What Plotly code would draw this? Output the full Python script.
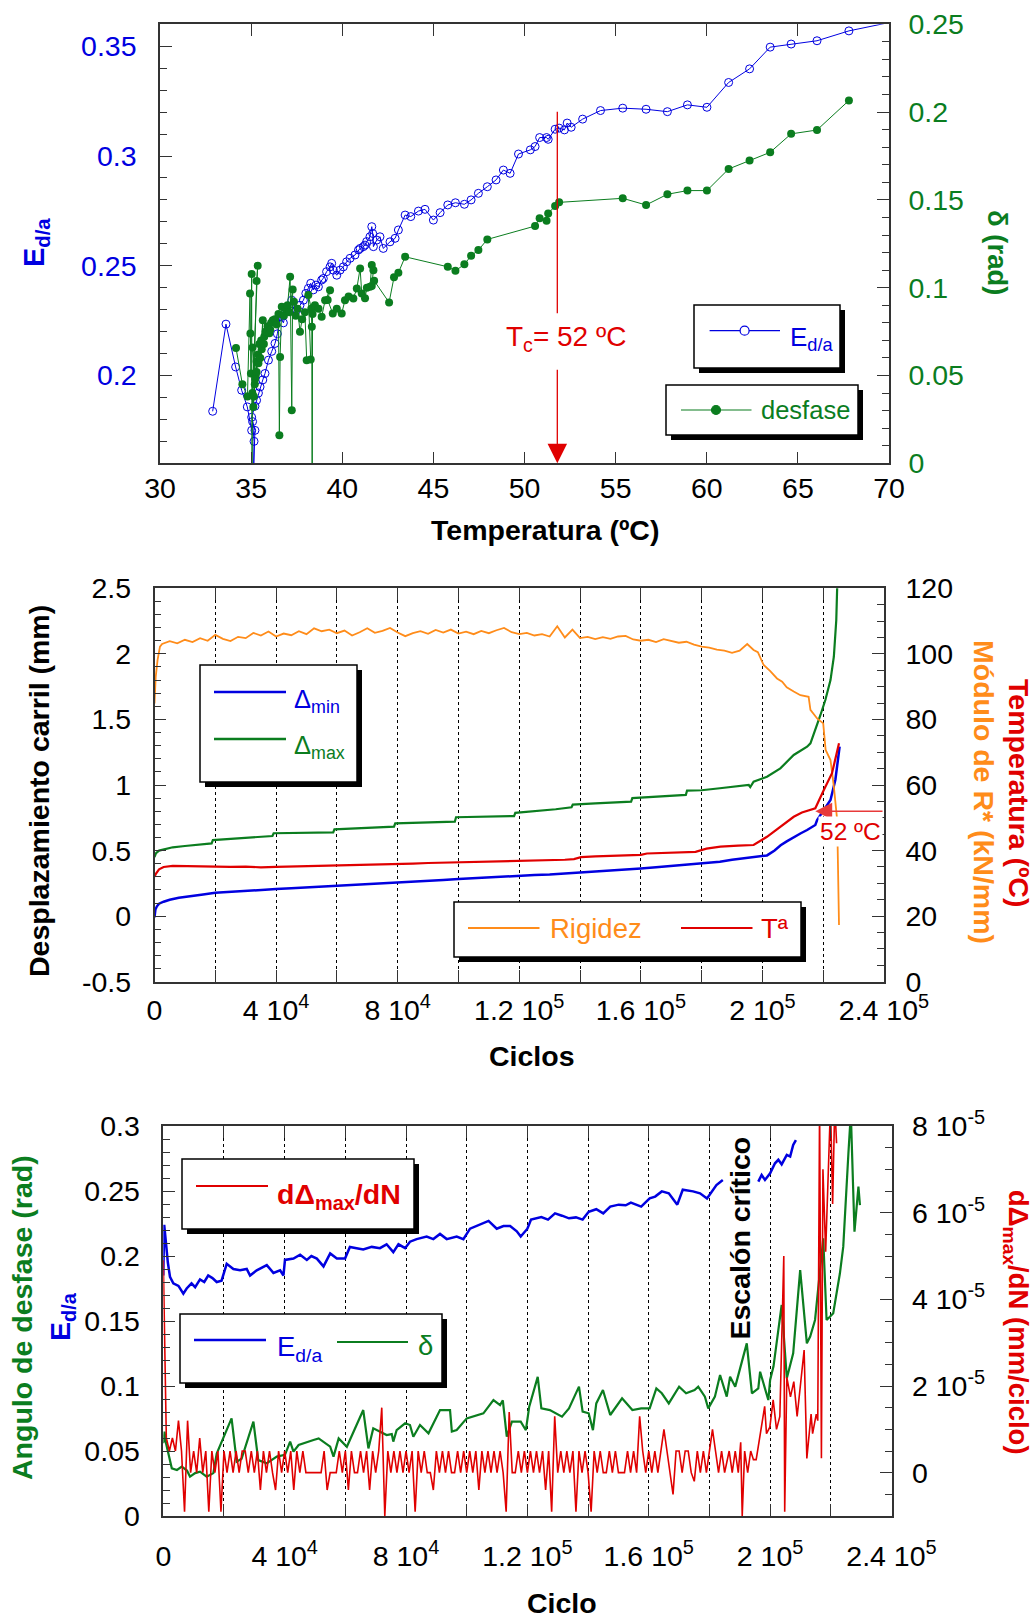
import plotly.graph_objects as go

W, H = 1036, 1619
FONT = "Liberation Sans, Arial, Helvetica, sans-serif"
BLUE = "#0000e0"
GREEN = "#0b7d1f"
RED = "#e00000"
ORANGE = "#ff8c1a"
AXIS = "#333333"

# ---------------- Panel 1: E_d/a and desfase vs temperature ----------------
temp_e = [32.89, 33.62, 34.15, 34.48, 34.79, 35.03, 35.08, 35.16, 35.14, 35.21,
          35.03, 35.21, 35.3, 35.4, 35.49, 35.64, 35.76, 35.95, 36.13, 36.31,
          36.44, 36.59, 36.77, 36.95, 37.23, 37.32, 37.5, 37.68, 37.87, 38.0,
          38.14, 38.27, 38.41, 38.56, 38.69, 38.87, 38.96, 39.14, 39.33, 39.42,
          39.51, 39.7, 39.88, 40.06, 40.24, 40.43, 40.7, 40.89, 40.98, 41.16,
          41.25, 41.34, 41.52, 41.62, 41.67, 41.71, 41.89, 42.07, 42.25, 42.62,
          42.9, 43.08, 43.45, 43.76, 44.18, 44.54, 45.0, 45.37, 45.79, 46.21,
          46.7, 47.07, 47.47, 47.96, 48.44, 48.84, 49.21, 49.67, 50.32, 50.58,
          50.83, 51.21, 51.3, 51.68, 51.9, 52.19, 52.34, 52.56, 53.19, 54.17,
          55.39, 56.67, 57.84, 58.94, 60.01, 61.2, 62.35, 63.48, 64.63, 66.05,
          67.8, 71.0]
ed_a = [0.1837, 0.2234, 0.2039, 0.1933, 0.1857, 0.175, 0.179, 0.170, 0.158, 0.175,
        0.181, 0.186, 0.1887, 0.192, 0.1948, 0.198, 0.2009, 0.207, 0.211, 0.2146,
        0.219, 0.2267, 0.224, 0.2298, 0.2343, 0.2306, 0.2298, 0.232, 0.2343, 0.2374,
        0.2397, 0.242, 0.239, 0.2412, 0.2404, 0.2435, 0.2442, 0.2473, 0.2495, 0.2511,
        0.248, 0.2457, 0.248, 0.2495, 0.2518, 0.2534, 0.2549, 0.2572, 0.2579, 0.2587,
        0.2594, 0.261, 0.2632, 0.2678, 0.2647, 0.2587, 0.2617, 0.2632, 0.2579, 0.2609,
        0.2625, 0.2663, 0.2731, 0.2724, 0.2749, 0.2757, 0.2708, 0.2742, 0.2777, 0.2787,
        0.278, 0.28, 0.283, 0.286, 0.2891, 0.2936, 0.2921, 0.3009, 0.3028, 0.3043,
        0.3084, 0.3084, 0.3076, 0.3122, 0.3127, 0.3119, 0.315, 0.3131, 0.3168, 0.3207,
        0.3218, 0.3213, 0.3202, 0.3233, 0.3222, 0.3335, 0.3397, 0.3496, 0.351, 0.3525,
        0.357, 0.3625]

temp_d = [34.17, 34.52, 34.8, 34.94, 34.96, 34.99, 35.03, 35.05, 35.07, 35.36,
          35.3, 35.12, 35.2, 35.08, 35.25, 35.15, 35.3, 35.22, 35.38, 35.3,
          35.45, 35.4, 35.55, 35.5, 35.64, 35.58, 35.72, 35.8, 35.7, 35.9,
          36.0, 36.1, 36.19, 36.05, 36.3, 36.4, 36.5, 36.55, 36.59, 36.68,
          36.8, 36.9, 37.0, 37.14, 37.23, 37.28, 37.1, 37.35, 37.45, 37.55,
          37.68, 37.8, 37.95, 38.05, 38.27, 38.14, 38.3, 38.33, 38.35, 38.37,
          38.5, 38.7, 38.87, 39.06, 39.33, 39.2, 39.48, 39.7, 39.97, 40.15,
          40.35, 40.61, 40.8, 40.98, 41.07, 41.25, 41.35, 41.52, 41.62, 41.71,
          41.62, 41.75, 42.57, 42.84, 43.08, 43.45, 45.79, 46.21, 46.7, 47.07,
          47.47, 47.96, 50.58, 50.83, 51.21, 51.3, 51.68, 51.9, 55.39, 56.67,
          57.84, 58.94, 60.01, 61.2, 62.35, 63.48, 64.63, 66.05, 67.8]
desfase = [0.0657, 0.045, 0.038, 0.0967, 0.0739, 0.0511, 0.1078, -0.03, 0.04, 0.1125,
           0.1038, 0.0321, 0.045, 0.066, 0.05, 0.038, 0.058, 0.048, 0.062, 0.052,
           0.068, 0.057, 0.07, 0.06, 0.0815, 0.065, 0.072, 0.075, 0.068, 0.078,
           0.074, 0.08, 0.0815, 0.076, 0.082, 0.079, 0.085, 0.016, 0.0606, 0.0891,
           0.084, 0.088, 0.09, 0.1062, 0.0302, 0.099, 0.086, 0.092, 0.084, 0.088,
           0.0749, 0.082, 0.086, 0.0587, 0.0591, 0.0958, 0.088, 0.0777, -0.05, 0.085,
           0.09, 0.088, 0.0834, 0.0929, 0.0986, 0.093, 0.0853, 0.088, 0.0853, 0.0929,
           0.095, 0.0939, 0.0996, 0.111, 0.0967, 0.094, 0.1, 0.1005, 0.1129, 0.11,
           0.101, 0.104, 0.0916, 0.1059, 0.1085, 0.1176, 0.1119, 0.1096, 0.1133, 0.1182,
           0.1214, 0.1275, 0.1351, 0.1395, 0.1381, 0.1423, 0.1465, 0.1486, 0.1509, 0.1471,
           0.1532, 0.1553, 0.1553, 0.1676, 0.1724, 0.1771, 0.1876, 0.1898, 0.2066]

critical_temp = 51.8  # T_c marker position

# ---------------- Panel 2: rail displacement, stiffness and temperature ----------------
dmin_n = [0, 0.3, 0.8, 1.5, 3, 5, 8, 12, 16, 20,
          25, 30, 35, 40, 45, 50, 55, 60, 65, 70,
          75, 80, 85, 90, 95, 100, 105, 110, 115, 120,
          125, 130, 135, 140, 145, 150, 155, 160, 165, 170,
          175, 180, 186, 190, 194, 198, 201.5, 204, 206, 208,
          210.3, 212.5, 214.7, 217.4, 218, 220.2, 222.4, 224, 224.8, 225.4]
dmin = [-0.01, 0.05, 0.075, 0.095, 0.11, 0.125, 0.14, 0.155, 0.165, 0.178,
        0.186, 0.195, 0.2, 0.206, 0.212, 0.218, 0.223, 0.23, 0.236, 0.242,
        0.248, 0.255, 0.26, 0.268, 0.275, 0.283, 0.29, 0.297, 0.302, 0.306,
        0.313, 0.318, 0.325, 0.331, 0.338, 0.345, 0.352, 0.364, 0.372, 0.383,
        0.395, 0.405, 0.415, 0.43, 0.443, 0.455, 0.463, 0.5, 0.54, 0.57,
        0.603, 0.63, 0.657, 0.695, 0.733, 0.81, 0.886, 1.04, 1.19, 1.292]

dmax_n = [0, 0.5, 1.5, 3, 6, 10, 14, 18.8, 19.2, 25,
          30, 35, 38.8, 39.2, 45, 52, 58.8, 59.2, 65, 72,
          78.8, 79.2, 85, 92, 98.8, 99.2, 105, 112, 118.3, 118.7,
          125, 132, 137.2, 137.6, 145, 152, 156.8, 157.2, 165, 170,
          174.8, 175.2, 180, 186, 190.5, 195.5, 196, 196.5, 197.1, 201.5,
          205.9, 210.3, 214.7, 215.8, 217.4, 219.1, 220.7, 222.4, 223.5, 224.3,
          224.6, 225.0]
dmax = [0.45, 0.48, 0.5, 0.51, 0.525, 0.535, 0.545, 0.555, 0.58, 0.59,
        0.6, 0.606, 0.611, 0.632, 0.634, 0.636, 0.638, 0.662, 0.668, 0.675,
        0.682, 0.708, 0.712, 0.716, 0.72, 0.754, 0.757, 0.76, 0.763, 0.788,
        0.8, 0.815, 0.83, 0.85, 0.86, 0.868, 0.873, 0.9, 0.91, 0.918,
        0.924, 0.957, 0.96, 0.975, 0.987, 1.0, 0.985, 1.008, 1.025, 1.063,
        1.127, 1.229, 1.292, 1.318, 1.419, 1.534, 1.648, 1.8, 1.978, 2.258,
        2.51, 2.9]

temp_n = [0, 0.5, 1.5, 3, 6, 10, 15, 20, 25, 30,
          35, 40, 45, 50, 55, 60, 65, 70, 75, 80,
          85, 90, 95, 100, 105, 110, 115, 120, 125, 130,
          135, 138, 140.3, 145, 150, 155, 160, 162, 165, 170,
          175, 178, 181.6, 186.2, 192, 197.1, 201.5, 205.9, 210.3, 213,
          215.8, 217.4, 220.2, 222.9, 225.2]
temp_c = [32.0, 33.0, 34.3, 35.0, 35.3, 35.2, 35.3, 35.1, 35.0, 35.1,
          34.9, 35.0, 35.1, 35.2, 35.2, 35.4, 35.5, 35.6, 35.8, 35.9,
          36.0, 36.2, 36.3, 36.4, 36.4, 36.5, 36.6, 36.8, 36.9, 37.0,
          37.2, 37.4, 38.0, 38.2, 38.3, 38.5, 38.7, 39.1, 39.2, 39.3,
          39.4, 39.6, 40.6, 41.2, 41.5, 41.7, 44.2, 47.3, 50.3, 51.6,
          52.4, 52.9, 58.5, 63.6, 72.7]

# stiffness: start-up, regular record every 2500 cycles, then the collapse
rig_start_n = [0, 0.4, 1.0, 1.8]
rig_start = [84.9, 93.0, 98.1, 102.2]
rig_step = 2.5
rig_mid = [103.0, 103.9, 103.2, 104.3, 103.6, 104.8, 104.0, 105.8, 104.6, 103.9,
           105.2, 104.8, 106.4, 105.6, 106.8, 105.3, 106.2, 105.7, 106.9, 106.0,
           107.8, 106.9, 107.4, 106.3, 107.1, 105.6, 106.6, 107.8, 106.4, 107.0,
           107.9, 106.5, 105.4, 106.3, 106.9, 106.1, 107.3, 106.5, 107.4, 106.2,
           106.8, 106.0, 107.0, 106.3, 107.2, 107.9, 106.6, 106.0, 106.4, 105.6,
           106.0, 105.3, 108.4, 105.0, 107.4, 104.8, 105.2, 104.5, 105.1, 104.6,
           105.3, 105.5, 104.4, 104.0, 104.3, 103.6, 104.5, 104.0, 103.4, 103.7,
           102.8, 102.2, 101.9, 101.3, 101.0, 100.3, 101.0, 103.0]
rig_end_n = [197.1, 198.5, 200.4, 202.5, 204.8, 206.5, 208, 210.3, 212.5, 215.2,
             215.8, 218, 220, 220.8, 222.4, 223.5, 224.6, 225.2]
rig_end = [101.2, 100.5, 96.6, 94.8, 92.5, 91.5, 89.8, 88.5, 87.4, 86.9,
           82.9, 80.3, 78.8, 70.7, 67.6, 59.5, 49.3, 17.3]

# ---------------- Panel 3: E_d/a, phase angle and d(Delta_max)/dN ----------------
e3_n = [0, 0.3, 0.8, 1.5, 2.2, 3.3, 5, 6.6, 7.7, 9.3,
        10.5, 12.1, 13.5, 14.8, 16.2, 17.6, 19.2, 20.9, 23.1, 25.3,
        27.5, 28.6, 30.8, 32.5, 34.1, 36.3, 38.5, 39.6, 40.1, 42.9,
        45.1, 47.3, 48.8, 50.6, 52.8, 55, 57.2, 59.9, 61.5, 63.7,
        65.9, 68.7, 71.4, 73.6, 75.8, 77.5, 79.7, 81.3, 83.5, 86.8,
        89, 91.2, 93.4, 96.7, 98.9, 101.1, 104.4, 107.2, 109.9, 112.1,
        114.3, 116.5, 117.8, 120, 121.2, 124.6, 126.8, 129.1, 131.4, 133.7,
        136, 138.2, 140.2, 142.7, 145, 147.3, 150.1, 152.4, 154.1, 157.5,
        160.3, 162.1, 164.3, 166.6, 169.4, 171.2, 174.6, 176.9, 179.2, 180.9,
        182.3, 184.4]
e3 = [0.185, 0.224, 0.212, 0.195, 0.184, 0.179, 0.177, 0.171, 0.175, 0.179,
      0.176, 0.182, 0.18, 0.185, 0.183, 0.18, 0.181, 0.194, 0.19, 0.189,
      0.19, 0.185, 0.189, 0.191, 0.193, 0.187, 0.189, 0.185, 0.197, 0.198,
      0.201, 0.197, 0.2, 0.198, 0.192, 0.202, 0.198, 0.198, 0.207, 0.206,
      0.205, 0.207, 0.206, 0.209, 0.203, 0.209, 0.206, 0.211, 0.213, 0.215,
      0.213, 0.217, 0.213, 0.215, 0.213, 0.221, 0.224, 0.227, 0.221, 0.223,
      0.223, 0.219, 0.215, 0.221, 0.228, 0.23, 0.228, 0.2328, 0.231, 0.229,
      0.2297, 0.228, 0.234, 0.236, 0.2328, 0.238, 0.2395, 0.239, 0.241, 0.238,
      0.2443, 0.2457, 0.2497, 0.2482, 0.2395, 0.251, 0.2497, 0.2482, 0.2443, 0.2497,
      0.2546, 0.2585]
e3_late_n = [196.1, 197.2, 198.3, 200, 201.6, 202.7, 203.8, 205.5, 206.6, 207.6, 208.5]
e3_late = [0.2572, 0.2623, 0.2585, 0.2636, 0.2713, 0.274, 0.2705, 0.2777, 0.2765, 0.2854, 0.2892]

delta_n = [0, 0.4, 0.9, 1.6, 2.8, 4.5, 6.1, 7.8, 8.8, 10.5,
           12.1, 14.3, 16.5, 17.6, 22.5, 24.2, 25.8, 29.7, 31.3, 34.1,
           37.4, 40.1, 41.8, 42.9, 44.6, 49.5, 51.2, 55, 56.1, 57.8,
           60.5, 65.9, 67.6, 69.2, 73.6, 75.3, 75.8, 76.9, 79.7, 81.3,
           82.4, 84.6, 87.4, 91.2, 94.5, 95.1, 96.7, 100, 105.5, 108.8,
           111, 111.9, 113.2, 114.9, 117.8, 119.5, 120.6, 123.4, 124.6, 127.4,
           131.4, 133.7, 137, 138.2, 140.2, 141.6, 142.7, 144.9, 147.3, 151.2,
           154.6, 157.5, 160.3, 162.5, 164.3, 166.6, 170, 172.3, 175.1, 176.3,
           178.5, 179.6, 181.8, 183.5, 185.7, 186.8, 188.5, 192.3, 194, 196.1,
           196.7, 199.4, 200, 201.1, 203.8, 205.5, 207.6, 209.9, 212.1, 213.2,
           214.8, 217.5, 218.6, 219.7, 220.8, 223, 224.1, 225.8, 226.6, 227.8,
           229.1, 229.6]
delta = [0.056, 0.0649, 0.056, 0.048, 0.0367, 0.0354, 0.038, 0.035, 0.0303, 0.033,
         0.0341, 0.0303, 0.033, 0.048, 0.0751, 0.0418, 0.044, 0.0726, 0.043, 0.0405,
         0.0457, 0.047, 0.0572, 0.0495, 0.0546, 0.0585, 0.0597, 0.0533, 0.0457, 0.0597,
         0.0533, 0.0815, 0.052, 0.0674, 0.0623, 0.063, 0.0572, 0.0661, 0.0713, 0.07,
         0.061, 0.07, 0.0636, 0.0815, 0.0815, 0.0649, 0.0661, 0.0751, 0.079, 0.0892,
         0.0853, 0.089, 0.061, 0.0726, 0.0726, 0.066, 0.0841, 0.107, 0.0828, 0.0815,
         0.0764, 0.0828, 0.0995, 0.0803, 0.079, 0.066, 0.0866, 0.0969, 0.0777, 0.0905,
         0.0815, 0.0828, 0.0828, 0.0982, 0.0944, 0.0866, 0.0995, 0.0944, 0.0969, 0.0995,
         0.0918, 0.0828, 0.0918, 0.1085, 0.0918, 0.1072, 0.0995, 0.1328, 0.0944, 0.0982,
         0.111, 0.0892, 0.1046, 0.1149, 0.1623, 0.1059, 0.1251, 0.1892, 0.1328, 0.138,
         0.1508, 0.2136, 0.1508, 0.1533, 0.156, 0.1867, 0.2072, 0.279, 0.31, 0.2187,
         0.2533, 0.2392]

# d(Delta_max)/dN in 1e-5 mm/cycle, recorded every 1000 cycles up to 185000
rate_step = 1.0
rate_early = [4.9, 0.8, 0.5, 0.8, 0.5, 1.2, 0.5, -0.9, 1.2, 0,
              0.5, 0, 0.8, 0, 0.5, -0.9, 0.5, 0, 0.5, -0.9,
              0.5, 0, 0.5, 0, 0.5, 0, 0.5, 0.5, 0, 0.5,
              0, 0.5, -0.4, 0.5, 0, 0.5, 0, -0.4, 0.5, 0,
              0.5, 0, 0.5, -0.4, 0.5, 0, 0.5, 0, 0, 0,
              0, 0, 0, 0.5, -0.4, 0, 0, 0, 0.5, 0,
              0.5, -0.4, 0.5, 0, 0, 0.5, 0, 0.5, -0.4, 0.5,
              0, 0.5, 1.5, -1.0, 0.5, 0, 0.5, 0, 0.5, 0,
              0.5, 0, 0.5, -0.9, 0.5, 0, 0.5, 0, 0, -0.4,
              0.5, 0, 0.5, 0, 0.5, 0, 0, 0.5, 0, 0.5,
              0, 0.5, 0, 0.5, -0.4, 0.5, 0, 0.5, 0, 0.5,
              0, 0.5, 0, -0.9, 1.4, 0, 0, 0.5, 0, 0.5,
              0, 0.5, 0, 0.5, 0, 0.5, -0.4, 0.5, -0.9, 1.3,
              0, 0.5, 0, 0.5, 0, 0.5, -0.9, 0.5, 0, 0.5,
              0, -0.9, 0.5, 0, 0.5, 0, 0, 0.5, 0, 0.5,
              0, 0, 0, 0.5, 0, 0.5, 0, 1.3, 0.5, 0,
              0.5, 0, 0.5, 0, 0.5, 1.0, 0.5, 0, -0.5, 0.5,
              0.5, 0, 0.5, 0.5, 0, -0.2, 0.5, 0, 0.5, 0,
              0.5, 1.0, 0.5, 0, 0.5, 0]
rate_late_n = [186.5, 187.5, 188.5, 189.5, 190.3, 190.8, 191.6, 192.6, 193.6, 194.5,
               195.4, 196.5, 197.1, 198.2, 198.8, 199.9, 201.0, 202.1, 203.2, 204.5,
               204.8, 205.5, 206.7, 207.8, 208.9, 210.0, 211.2, 212.1, 213.5, 214.0,
               215.2, 215.7, 216.3, 216.9, 217.4, 218.3, 219.1, 219.9, 220.6, 221.3,
               221.9]
rate_late = [0.5, 0, 0.5, 0, 0.7, -1.0, 0.5, 0, 0.5, 0.3,
             0.3, 0.75, 1.05, 1.53, 0.9, 1.05, 1.68, 1.0, 1.3, 5.0,
             -0.9, 2.2, 1.75, 2.1, 1.3, 2.0, 2.83, 0.33, 1.35, 0.9,
             1.35, 1.2, 8.5, 0.33, 7.0, 5.1, 6.7, 8.5, 6.2, 8.5,
             7.6]

cycle_ticks = [0, 20000, 40000, 60000, 80000, 100000, 120000, 140000,
               160000, 180000, 200000, 220000, 240000]
cycle_text = ["0", "", "4 10<sup>4</sup>", "", "8 10<sup>4</sup>", "",
              "1.2 10<sup>5</sup>", "", "1.6 10<sup>5</sup>", "",
              "2 10<sup>5</sup>", "", "2.4 10<sup>5</sup>"]


def kc(values):
    """thousands of cycles -> cycles"""
    return [v * 1000 for v in values]


def px(x):
    return x / W


def py(y):
    return 1 - y / H


fig = go.Figure()

# panel 1 traces
fig.add_trace(go.Scatter(x=temp_e, y=ed_a, mode="lines+markers", xaxis="x", yaxis="y",
                         line=dict(color=BLUE, width=1),
                         marker=dict(symbol="circle-open", size=8, color=BLUE, line=dict(width=1))))
fig.add_trace(go.Scatter(x=temp_d, y=desfase, mode="lines+markers", xaxis="x", yaxis="y2",
                         line=dict(color=GREEN, width=1),
                         marker=dict(symbol="circle", size=8, color=GREEN)))

# panel 2 traces
fig.add_trace(go.Scatter(x=kc(dmin_n), y=dmin, mode="lines", xaxis="x2", yaxis="y3",
                         line=dict(color=BLUE, width=2.5)))
fig.add_trace(go.Scatter(x=kc(dmax_n), y=dmax, mode="lines", xaxis="x2", yaxis="y3",
                         line=dict(color=GREEN, width=2.2)))
rig_n = rig_start_n + [rig_step * (i + 1) for i in range(len(rig_mid))] + rig_end_n
rig = rig_start + rig_mid + rig_end
fig.add_trace(go.Scatter(x=kc(rig_n), y=rig, mode="lines", xaxis="x2", yaxis="y4",
                         line=dict(color=ORANGE, width=1.8)))
fig.add_trace(go.Scatter(x=kc(temp_n), y=temp_c, mode="lines", xaxis="x2", yaxis="y4",
                         line=dict(color=RED, width=2.2)))

# panel 3 traces
fig.add_trace(go.Scatter(x=kc(e3_n) + [None] + kc(e3_late_n), y=e3 + [None] + e3_late,
                         mode="lines", xaxis="x3", yaxis="y5", connectgaps=False,
                         line=dict(color=BLUE, width=2.5)))
fig.add_trace(go.Scatter(x=kc(delta_n), y=delta, mode="lines", xaxis="x3", yaxis="y5",
                         line=dict(color=GREEN, width=2.2)))
rate_n = [rate_step * i for i in range(len(rate_early))] + rate_late_n
rate = [v * 1e-5 for v in rate_early + rate_late]
fig.add_trace(go.Scatter(x=kc(rate_n), y=rate, mode="lines", xaxis="x3", yaxis="y6",
                         line=dict(color=RED, width=1.6)))

fig.update_traces(showlegend=False)

TICKSIZE = 28.5
TICKFONT = dict(family=FONT, size=TICKSIZE, color="black")


def minor(dtick, tick0=0):
    return dict(ticks="inside", ticklen=7, tickwidth=1.2, tickcolor=AXIS,
                tickmode="linear", dtick=dtick, tick0=tick0, showgrid=False)


def axis(**kw):
    d = dict(showline=True, linecolor=AXIS, linewidth=1.5, ticks="inside", ticklen=12,
             tickwidth=1.3, tickcolor=AXIS, tickfont=TICKFONT, zeroline=False,
             showgrid=False, fixedrange=True, automargin=False)
    d.update(kw)
    return d


P1x, P1y = (160, 889), (24.3, 463.3)
P2x, P2y = (154.5, 884), (588.3, 981.7)
P3x, P3y = (163.3, 891.5), (1126, 1516)


def xdom(p):
    return [px(p[0]), px(p[1])]


def ydom(p):
    return [py(p[1]), py(p[0])]


grid = dict(showgrid=True, gridcolor="black", gridwidth=1, griddash="3px,3px")

fig.update_layout(
    width=W, height=H, autosize=False,
    margin=dict(l=0, r=0, t=0, b=0, pad=0, autoexpand=False),
    paper_bgcolor="white", plot_bgcolor="white", showlegend=False,
    xaxis=axis(domain=xdom(P1x), range=[30, 70], anchor="y", mirror="ticks",
               tickmode="linear", tick0=30, dtick=5, ticklabelstandoff=-1),
    yaxis=axis(domain=ydom(P1y), range=[0.16, 0.36], anchor="x",
               tickmode="array", tickvals=[0.2, 0.25, 0.3, 0.35],
               ticktext=["0.2", "0.25", "0.3", "0.35"], minor=minor(0.01),
               tickfont=dict(family=FONT, size=TICKSIZE, color=BLUE), ticklabelstandoff=16),
    yaxis2=axis(domain=ydom(P1y), range=[0, 0.25], anchor="x", overlaying="y", side="right",
                tickmode="array", tickvals=[0, 0.05, 0.1, 0.15, 0.2, 0.25],
                ticktext=["0", "0.05", "0.1", "0.15", "0.2", "0.25"], minor=minor(0.01),
                tickfont=dict(family=FONT, size=TICKSIZE, color=GREEN), ticklabelstandoff=12),
    xaxis2=axis(domain=xdom(P2x), range=[0, 240000], anchor="y3", mirror="ticks",
                tickmode="array", tickvals=cycle_ticks, ticktext=cycle_text,
                ticklabelstandoff=2, **grid),
    yaxis3=axis(domain=ydom(P2y), range=[-0.5, 2.5], anchor="x2",
                tickmode="array", tickvals=[-0.5, 0, 0.5, 1, 1.5, 2, 2.5],
                ticktext=["-0.5", "0", "0.5", "1", "1.5", "2", "2.5"],
                minor=minor(0.1), ticklabelstandoff=16),
    yaxis4=axis(domain=ydom(P2y), range=[0, 120], anchor="x2", overlaying="y3", side="right",
                tickmode="linear", tick0=0, dtick=20, minor=minor(5), ticklabelstandoff=14),
    xaxis3=axis(domain=xdom(P3x), range=[0, 240000], anchor="y5", mirror="ticks",
                tickmode="array", tickvals=cycle_ticks, ticktext=cycle_text,
                ticklabelstandoff=14, **grid),
    yaxis5=axis(domain=ydom(P3y), range=[0, 0.3], anchor="x3",
                tickmode="array", tickvals=[0, 0.05, 0.1, 0.15, 0.2, 0.25, 0.3],
                ticktext=["0", "0.05", "0.1", "0.15", "0.2", "0.25", "0.3"],
                minor=minor(0.01), ticklabelstandoff=16),
    yaxis6=axis(domain=ydom(P3y), range=[-1e-5, 8e-5], anchor="x3", overlaying="y5", side="right",
                tickmode="array", tickvals=[0, 2e-5, 4e-5, 6e-5, 8e-5],
                ticktext=["0", "2 10<sup>-5</sup>", "4 10<sup>-5</sup>",
                          "6 10<sup>-5</sup>", "8 10<sup>-5</sup>"],
                minor=minor(0.5e-5), ticklabelstandoff=13),
)

annotations = []
shapes = []


def text(s, x, y, size, color, bold=False, angle=0, xanchor="center", yanchor="middle", bg=None):
    if bold:
        s = "<b>" + s + "</b>"
    a = dict(text=s, x=px(x), y=py(y), xref="paper", yref="paper", showarrow=False,
             font=dict(family=FONT, size=size, color=color), textangle=angle,
             xanchor=xanchor, yanchor=yanchor)
    if bg:
        a["bgcolor"] = bg
    annotations.append(a)


def legend_box(x0, y0, x1, y1, off=5):
    shapes.append(dict(type="rect", xref="paper", yref="paper", layer="above",
                       x0=px(x0 + off), x1=px(x1 + off), y0=py(y1 + off), y1=py(y0 + off),
                       fillcolor="black", line=dict(width=0)))
    shapes.append(dict(type="rect", xref="paper", yref="paper", layer="above",
                       x0=px(x0), x1=px(x1), y0=py(y1), y1=py(y0),
                       fillcolor="white", line=dict(color="black", width=1.5)))


def sample(x0, x1, y, color, width, dot=None, filled=False):
    shapes.append(dict(type="line", xref="paper", yref="paper", layer="above",
                       x0=px(x0), x1=px(x1), y0=py(y), y1=py(y),
                       line=dict(color=color, width=width)))
    if dot is not None:
        r = 4.5
        shapes.append(dict(type="circle", xref="paper", yref="paper", layer="above",
                           x0=px(dot - r), x1=px(dot + r), y0=py(y + r), y1=py(y - r),
                           fillcolor=color if filled else "white",
                           line=dict(color=color, width=1.2)))


TITLE = 28.5

# ---- panel 1 texts, legend and T_c marker
text("E<sub>d/a</sub>", 36, 243, 29, BLUE, bold=True, angle=-90)
text("δ (rad)", 998, 252, 27.5, GREEN, bold=True, angle=90)
text("Temperatura (ºC)", 545, 530, TITLE, "black", bold=True)
legend_box(694, 305, 840, 368)
sample(709.6, 780, 330.7, BLUE, 1.2, dot=744.6)
text("E<sub>d/a</sub>", 788, 338, 26, BLUE, xanchor="left")
legend_box(666, 385, 858, 435)
sample(681, 751.5, 410, GREEN, 1.2, dot=716, filled=True)
text("desfase", 759, 410, 25.5, GREEN, xanchor="left")
text("T<sub>c</sub>= 52 ºC", 504, 338, 28, RED, xanchor="left")
shapes.append(dict(type="line", xref="x", yref="y", x0=critical_temp, x1=critical_temp,
                   y0=0.2284, y1=0.3202, line=dict(color=RED, width=1.3)))
annotations.append(dict(x=critical_temp, y=0.16, xref="x", yref="y",
                        ax=critical_temp, ay=0.2033, axref="x", ayref="y",
                        text="", showarrow=True, arrowhead=2, arrowsize=3,
                        arrowwidth=1.3, arrowcolor=RED, standoff=0))

# ---- panel 2 texts, legends and 52 ºC marker
text("Desplazamiento carril (mm)", 39, 791, TITLE, "black", bold=True, angle=-90)
text("Módulo de R* (kN/mm)", 984, 792, TITLE, ORANGE, bold=True, angle=90)
text("Temperatura (ºC)", 1019, 793, TITLE, RED, bold=True, angle=90)
text("Ciclos", 532, 1056, TITLE, "black", bold=True)
legend_box(200, 665, 357, 782)
sample(214, 286, 692, BLUE, 2.5)
text("Δ<sub>min</sub>", 292, 701, 25.5, BLUE, xanchor="left")
sample(214, 286, 739, GREEN, 2.5)
text("Δ<sub>max</sub>", 292, 747, 25.5, GREEN, xanchor="left")
legend_box(454, 902, 801, 957)
sample(468, 539.5, 928, ORANGE, 2)
text("Rigidez", 548, 928, 27.5, ORANGE, xanchor="left")
sample(681, 752.5, 928, RED, 2)
text("Tª", 759, 928, 27.5, RED, xanchor="left")
annotations.append(dict(x=217400, y=52, xref="x2", yref="y4", ax=240000, ay=52,
                        axref="x2", ayref="y4", text="", showarrow=True, arrowhead=2,
                        arrowsize=2.6, arrowwidth=1.3, arrowcolor="#e83a3a", standoff=0))
text("52 ºC", 850, 831, 24.5, RED, bg="white")

# ---- panel 3 texts and legends
text("Angulo de desfase (rad)", 22, 1318, TITLE, GREEN, bold=True, angle=-90)
text("E<sub>d/a</sub>", 62, 1317, TITLE, BLUE, bold=True, angle=-90)
text("dΔ<sub>max</sub>/dN (mm/ciclo)", 1017, 1322, 27.5, RED, bold=True, angle=90)
text("Ciclo", 562, 1603, TITLE, "black", bold=True)
text("Escalón crítico", 739.5, 1238, TITLE, "black", bold=True, angle=-90)
legend_box(182, 1159, 414, 1229)
sample(196, 268, 1186, RED, 2)
text("dΔ<sub>max</sub>/dN", 275, 1196, 28.5, RED, bold=True, xanchor="left")
legend_box(180, 1314, 442, 1383)
sample(194, 266, 1340, BLUE, 2.5)
text("E<sub>d/a</sub>", 275, 1348, 27.5, BLUE, xanchor="left")
sample(337, 408, 1342, GREEN, 2)
text("δ", 416, 1345, 27.5, GREEN, xanchor="left")

fig.update_layout(annotations=annotations, shapes=shapes)
fig.write_html("out.html")
